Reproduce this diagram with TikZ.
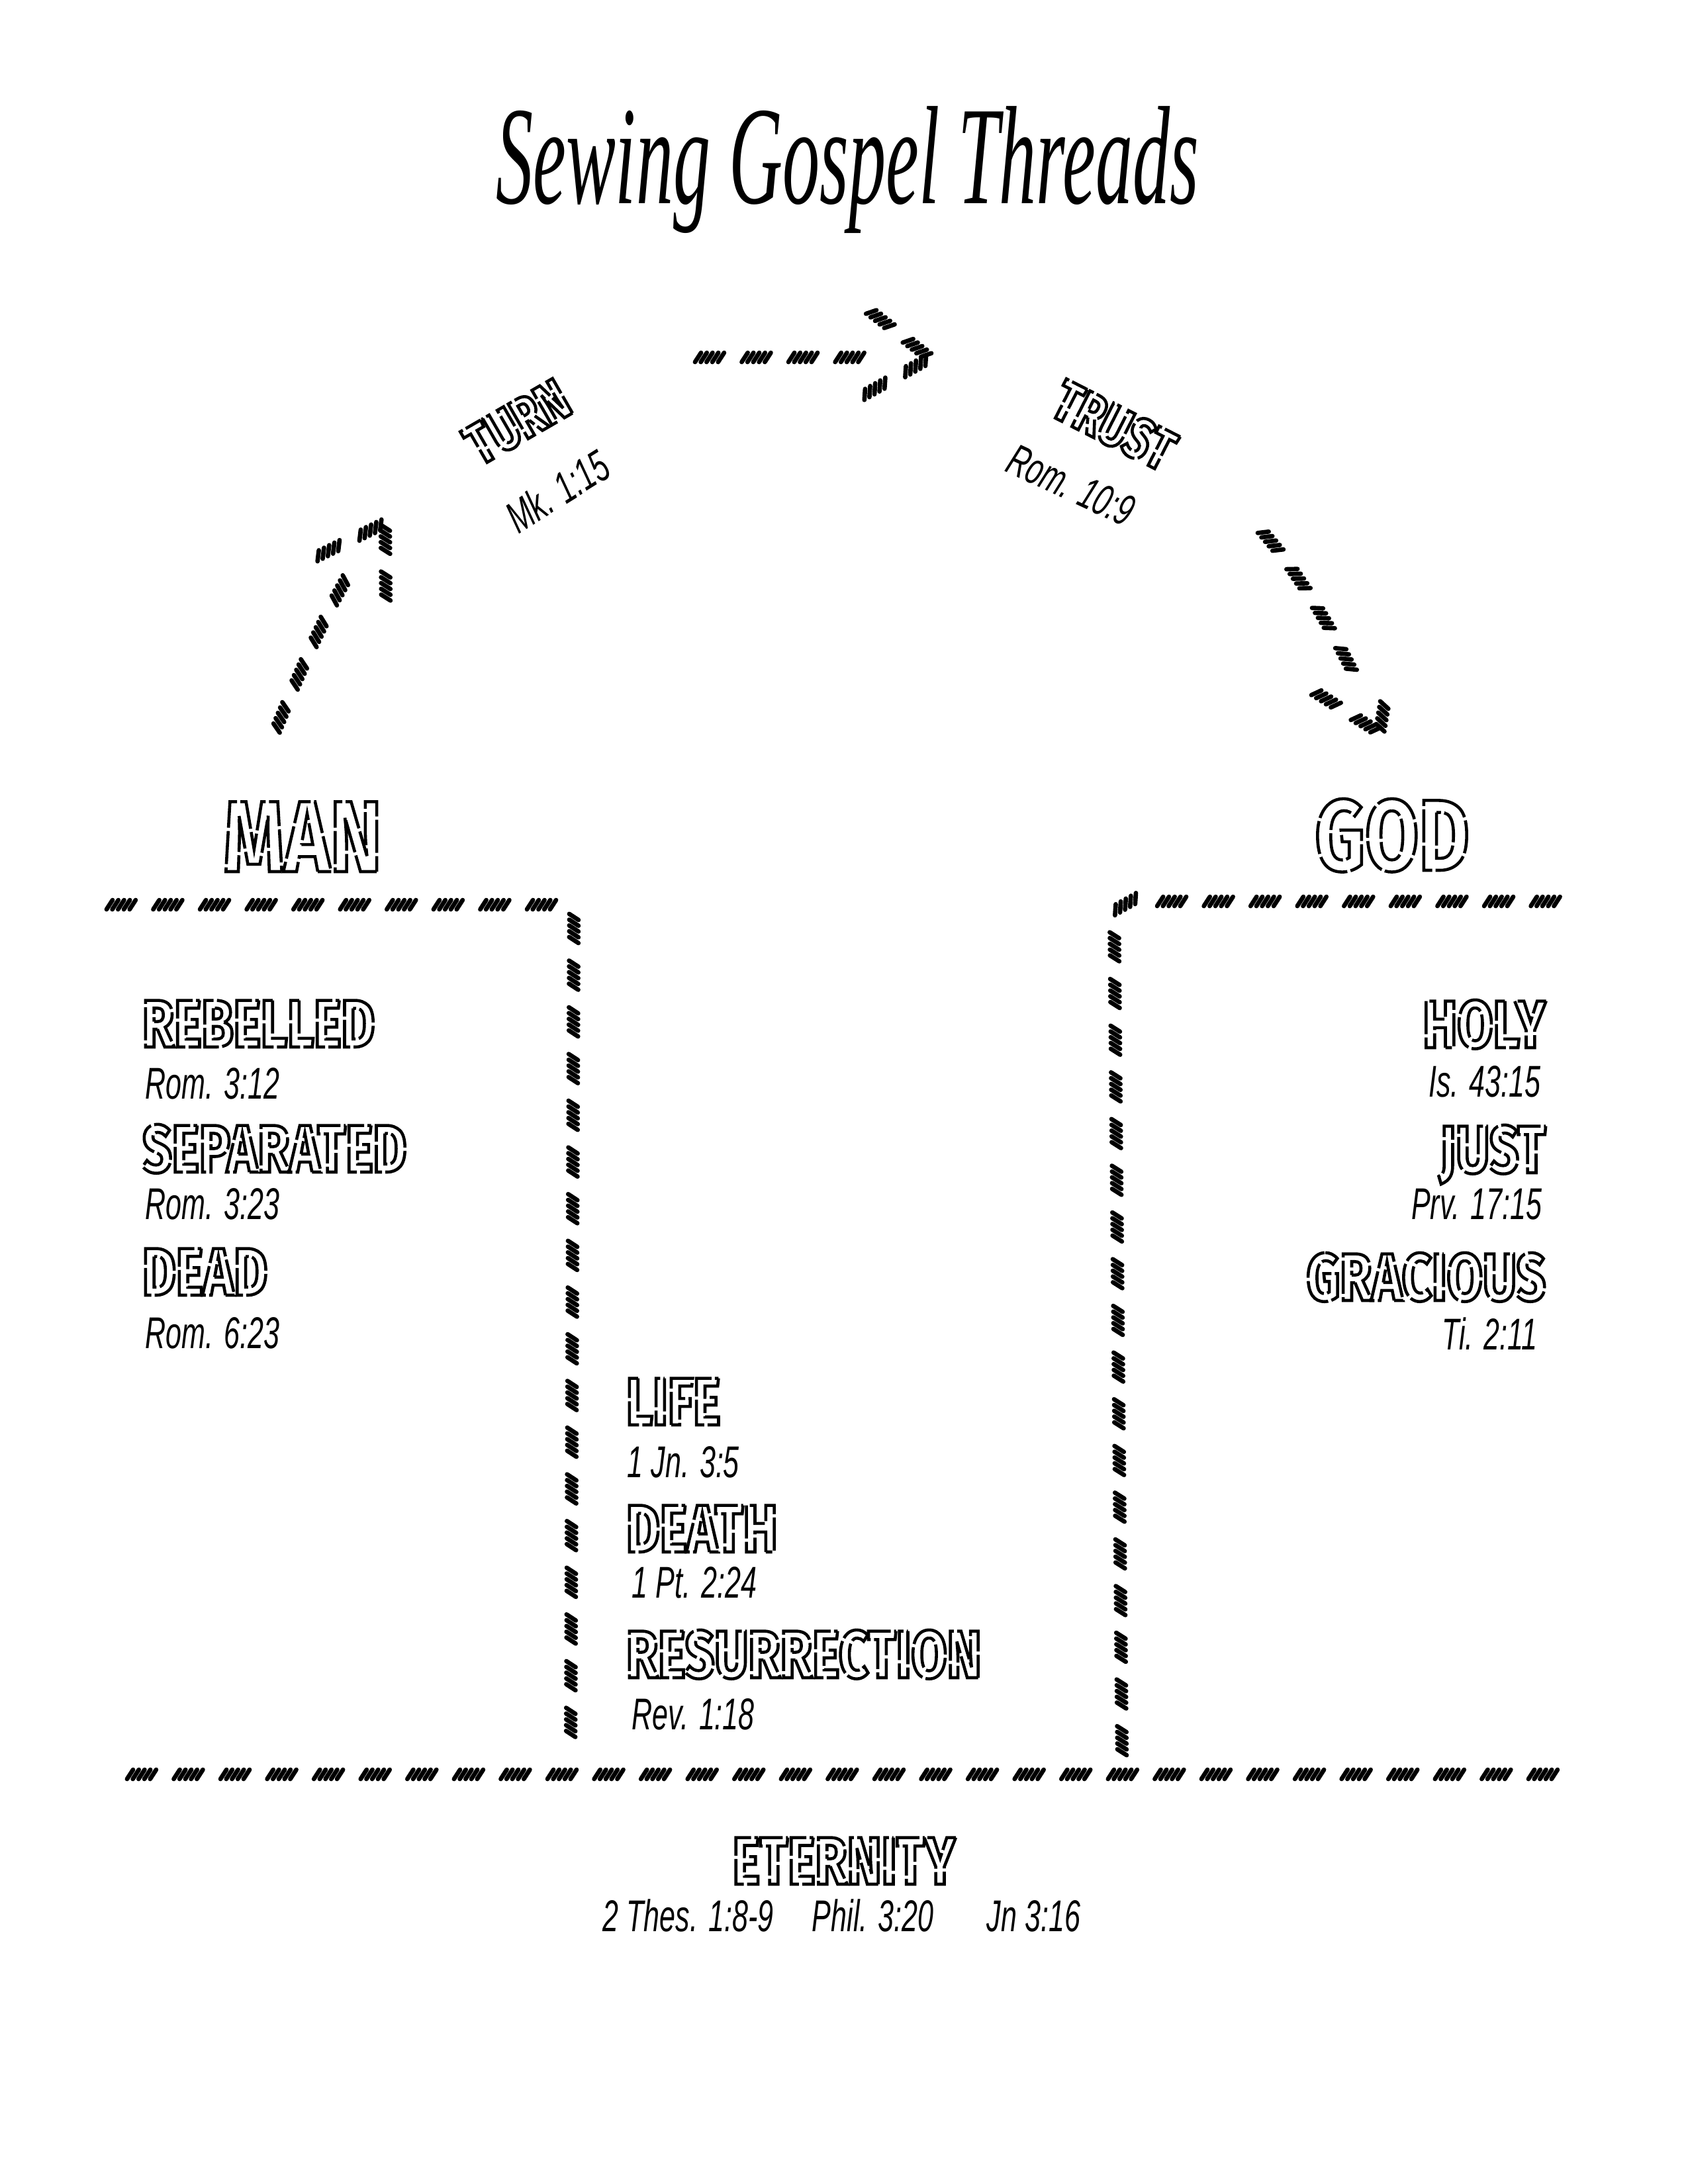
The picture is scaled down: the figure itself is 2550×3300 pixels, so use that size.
\documentclass[tikz,border=0pt]{standalone}
\usepackage{fontspec}
\usetikzlibrary{decorations.markings}
\newfontfamily\titlefont[FakeStretch=0.53]{Liberation Serif}
\newfontfamily\reffont[FakeStretch=0.64]{Liberation Sans}
\newfontfamily\capfont[FakeStretch=0.77]{Fira Sans}
\newcommand\stitchmark{%
  \foreach \k in {-4.2,-2.1,0,2.1,4.2}{%
    \draw[line width=1.6pt,line cap=round] ({\k pt-1.1pt},-1.7pt) -- ({\k pt+1.1pt},1.7pt);}}
\tikzset{
  stitch/.style={postaction={decorate},decoration={markings,
      mark=between positions 6pt and -6pt step 17pt with {\stitchmark}}},
  olstyle/.style={inner sep=0pt,
      execute at begin node={\special{pdf:literal direct 1 Tr 1.1 w [12 1.2] 0 d}},
      execute at end node={\special{pdf:literal direct 0 Tr [] 0 d}}},
  capword/.style={olstyle,font=\capfont\bfseries\fontsize{24.5}{26}\selectfont},
  bigword/.style={olstyle,font=\capfont\bfseries\fontsize{36.7}{40}\selectfont},
  arcword/.style={olstyle,font=\capfont\bfseries\fontsize{21}{23}\selectfont},
  ref/.style={inner sep=0pt,font=\reffont\itshape\fontsize{16.2}{18}\selectfont},
}
\begin{document}
\begin{tikzpicture}[x=0.2409pt,y=-0.2409pt]
\fill[white] (0,0) rectangle (2550,3300);
\useasboundingbox (0,0) rectangle (2550,3300);

% title
\node[inner sep=0pt,anchor=base,font=\titlefont\itshape\fontsize{51}{55}\selectfont] (title) at (1280,307) {Sewing Gospel Threads};

% arc labels
\node[arcword,rotate=30] (turn) at (782,638) {TURN};
\node[ref,rotate=32] (turnref) at (842,742) {Mk. 1:15};
\node[arcword,rotate=-27] (trust) at (1683,643) {TRUST};
\node[ref,rotate=-25] (trustref) at (1618,733) {Rom. 10:9};

% arrows
\coordinate (a1s) at (415,1107);
\coordinate (a1e) at (565,812);
\coordinate (a1t) at (582,790);
\coordinate (a1l) at (470,845);
\coordinate (a1d) at (583,922);
\path[stitch] (a1s) .. controls (455,1010) and (510,880) .. (a1e);
\path[stitch] (a1t) -- (a1l);
\path[stitch] (a1t) -- (a1d);

\coordinate (a2s) at (1047,540);
\coordinate (a2e) at (1372,540);
\coordinate (a2t) at (1405,541);
\coordinate (a2u) at (1308,465);
\coordinate (a2d) at (1290,605);
\path[stitch] (a2s) -- (a2e);
\path[stitch] (a2t) -- (a2u);
\path[stitch] (a2t) -- (a2d);

\coordinate (a3s) at (1903,799);
\coordinate (a3e) at (2072,1080);
\coordinate (a3t) at (2084,1107);
\coordinate (a3u) at (2104,990);
\coordinate (a3l) at (1970,1035);
\path[stitch] (a3s) .. controls (1960,860) and (2035,985) .. (a3e);
\path[stitch] (a3t) -- (a3u);
\path[stitch] (a3t) -- (a3l);

% MAN / GOD
\node[bigword,anchor=base] (man) at (457,1317) {MAN};
\node[bigword,anchor=base] (god) at (2103,1315) {GOD};

% brackets and ground line
\coordinate (lb1) at (158,1367);
\coordinate (lb2) at (867,1367);
\coordinate (lb3) at (862,2655);
\coordinate (rb1) at (1695,2655);
\coordinate (rb2) at (1683,1362);
\coordinate (rb3) at (2392,1362);
\coordinate (g1) at (189,2681);
\coordinate (g2) at (2392,2681);
\path[stitch,rounded corners=8pt] (lb1) -- (lb2) -- (lb3);
\path[stitch,rounded corners=8pt] (rb1) -- (rb2) -- (rb3);
\path[stitch] (g1) -- (g2);

% man column
\node[capword,anchor=base west] (rebelled) at (214,1582) {REBELLED};
\node[ref,anchor=base west] (r1) at (219,1660) {Rom. 3:12};
\node[capword,anchor=base west] (separated) at (214,1771) {SEPARATED};
\node[ref,anchor=base west] (r2) at (219,1842) {Rom. 3:23};
\node[capword,anchor=base west] (dead) at (214,1957) {DEAD};
\node[ref,anchor=base west] (r3) at (219,2037) {Rom. 6:23};

% god column
\node[capword,anchor=base east] (holy) at (2336,1583) {HOLY};
\node[ref,anchor=base east] (g1r) at (2328,1657) {Is. 43:15};
\node[capword,anchor=base east] (just) at (2336,1772) {JUST};
\node[ref,anchor=base east] (g2r) at (2330,1842) {Prv. 17:15};
\node[capword,anchor=base east] (gracious) at (2336,1965) {GRACIOUS};
\node[ref,anchor=base east] (g3r) at (2323,2039) {Ti. 2:11};

% middle column
\node[capword,anchor=base west] (life) at (945,2153) {LIFE};
\node[ref,anchor=base west] (m1) at (947,2232) {1 Jn. 3:5};
\node[capword,anchor=base west] (death) at (945,2345) {DEATH};
\node[ref,anchor=base west] (m2) at (954,2414) {1 Pt. 2:24};
\node[capword,anchor=base west] (resurrection) at (945,2535) {RESURRECTION};
\node[ref,anchor=base west] (m3) at (954,2613) {Rev. 1:18};

% eternity
\node[capword,anchor=base] (eternity) at (1275,2847) {ETERNITY};
\node[ref,anchor=base west] (e1) at (910,2918) {2 Thes. 1:8-9};
\node[ref,anchor=base west] (e2) at (1226,2918) {Phil. 3:20};
\node[ref,anchor=base west] (e3) at (1490,2918) {Jn 3:16};
\end{tikzpicture}
\end{document}
